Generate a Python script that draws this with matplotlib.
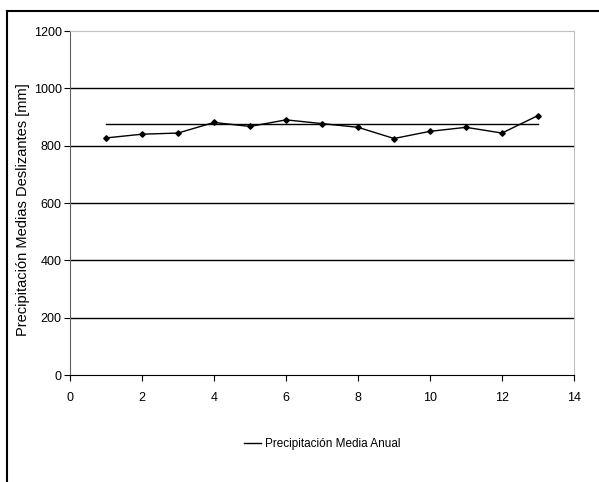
import matplotlib.pyplot as plt
from matplotlib.lines import Line2D

plt.rcParams['font.family'] = ['Liberation Sans', 'DejaVu Sans']

# moving-average precipitation per window
periodo = [1, 2, 3, 4, 5, 6, 7, 8, 9, 10, 11, 12, 13]
precip_desliz = [827, 840, 844, 881, 867, 890, 877, 864, 825, 850, 864, 844, 905]
media_anual = 876

fig = plt.figure(figsize=(5.99, 4.82), dpi=100)

# outer frame (left and top edges only show)
fig.add_artist(Line2D([7 / 599, 7 / 599], [0, 1 - 11 / 482], color='black', lw=1.5))
fig.add_artist(Line2D([7 / 599, 1], [1 - 11 / 482, 1 - 11 / 482], color='black', lw=1.5))

ax = fig.add_axes([70 / 599, 107 / 482, 504 / 599, 344 / 482])

for y in [200, 400, 600, 800, 1000]:
    ax.axhline(y, color='black', lw=1, zorder=1)

ax.plot(periodo, precip_desliz, color='black', lw=1, marker='D', ms=2.8, zorder=3)
ax.plot([periodo[0], periodo[-1]], [media_anual, media_anual], color='black', lw=1,
        label='Precipitación Media Anual', zorder=2)

ax.set_xlim(0, 14)
ax.set_ylim(0, 1200)
ax.set_xticks(range(0, 15, 2))
ax.set_yticks(range(0, 1201, 200))
ax.tick_params(labelsize=9, length=4, width=0.8, direction='out')
ax.tick_params(axis='x', pad=8)
ax.tick_params(axis='y', pad=2)
ax.set_ylabel('Precipitación Medias Deslizantes [mm]', fontsize=10.5)
ax.yaxis.set_label_coords(-0.079, 0.48)

ax.spines['top'].set_color('#c0c0c0')
ax.spines['right'].set_color('#c0c0c0')
ax.spines['left'].set_color('#606060')
ax.spines['bottom'].set_color('black')

ax.legend(loc='center', bbox_to_anchor=(0.5, -0.2), frameon=False, fontsize=8.5,
          handlelength=1.5, handletextpad=0.3)

fig.savefig('out.png', dpi=100)
